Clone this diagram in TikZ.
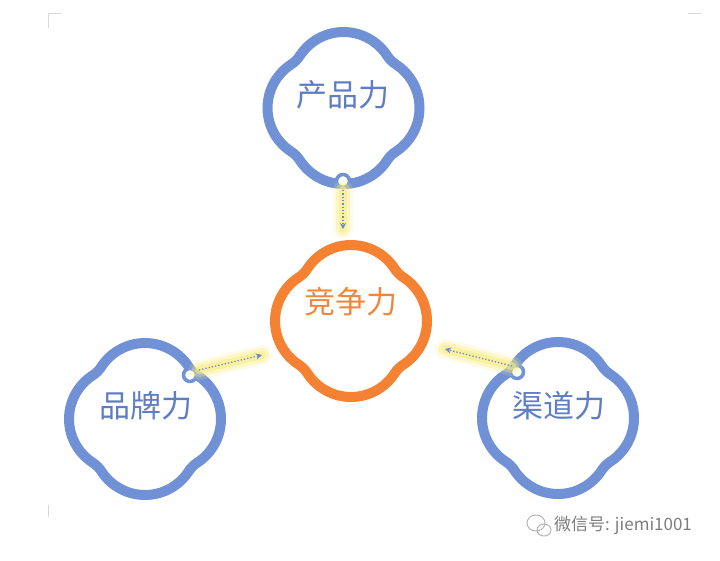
\documentclass[tikz,border=0pt]{standalone}
\usepackage{fontspec}
\newfontfamily\cjk{Noto Sans CJK SC}
\usetikzlibrary{arrows.meta}
\definecolor{bline}{RGB}{112,145,214}
\definecolor{btext}{RGB}{95,125,195}
\definecolor{oline}{RGB}{245,130,50}
\definecolor{otext}{RGB}{240,135,60}
\definecolor{glow}{RGB}{250,238,130}
\definecolor{dotc}{RGB}{110,135,200}
\definecolor{wm}{RGB}{125,125,125}
\tikzset{
  lbl/.style={font=\cjk\fontsize{31}{31}\selectfont, text=btext, inner sep=0},
  olbl/.style={lbl, text=otext},
  ringdot/.style={circle, fill=white, draw=bline, line width=3.5pt, minimum size=13pt, inner sep=0},
  glowline/.style={line cap=round, draw=glow},
  dotarrow/.style={draw=dotc, line width=1.3pt, dotted, -{Stealth[length=6pt,width=6pt]}},
  cornermark/.style={draw=black!15, line width=0.8pt},
  foil/.style={line width=10pt}
}
% quatrefoil: four lobes (radius 52, offset 24) joined by concave arcs (radius 30)
\newcommand\quatrefoil[3]{%
  \draw[foil, #3, shift={(#1,#2)}] (52.37,-43.58)
    arc[start angle=-56.94, end angle=56.94, radius=52]
    arc[start angle=236.94, end angle=213.06, radius=30]
    arc[start angle=33.06, end angle=146.94, radius=52]
    arc[start angle=326.94, end angle=303.06, radius=30]
    arc[start angle=123.06, end angle=236.94, radius=52]
    arc[start angle=56.94, end angle=33.06, radius=30]
    arc[start angle=213.06, end angle=326.94, radius=52]
    arc[start angle=146.94, end angle=123.06, radius=30] -- cycle;}
\begin{document}
\begin{tikzpicture}[x=1pt,y=-1pt]
\useasboundingbox[fill=white] (0,0) rectangle (720,560);
% corner marks
\draw[cornermark] (62,13) -- (48,13) -- (48,28);
\draw[cornermark] (688,13) -- (702,13);
\draw[cornermark] (48,505) -- (48,517);
% shapes
\quatrefoil{343.5}{108}{bline}
\quatrefoil{351}{321}{oline}
\quatrefoil{145}{419}{bline}
\quatrefoil{558}{418}{bline}
% labels
\node[lbl]  (p) at (343,95)  {产品力};
\node[olbl] (c) at (351,302) {竞争力};
\node[lbl]  (b) at (146,406) {品牌力};
\node[lbl]  (q) at (559,406) {渠道力};
% rings
\node[ringdot] (r1) at (343,181) {};
\node[ringdot] (r2) at (190,375) {};
\node[ringdot] (r3) at (517,372) {};
% arrow ends
\coordinate (e1) at (343,229);
\coordinate (e2) at (262,355);
\coordinate (e3) at (445,349);
\coordinate (s1) at (343,190);
\coordinate (s2) at (199,370);
\coordinate (s3) at (512,366);
% glows
\foreach \s/\e in {s1/e1,s2/e2,s3/e3}{
  \draw[glowline, line width=20pt, opacity=0.18] (\s) -- (\e);
  \draw[glowline, line width=14pt, opacity=0.35] (\s) -- (\e);
  \draw[glowline, line width=8pt, opacity=0.55] (\s) -- (\e);
}
\draw[dotarrow] (s1) -- (e1);
\draw[dotarrow] (s2) -- (e2);
\draw[dotarrow] (s3) -- (e3);
% watermark
\begin{scope}[draw=wm!60, line width=0.9pt]
  \draw (536,523) ellipse (9pt and 8pt);
  \draw (544,530) ellipse (7pt and 6pt);
\end{scope}
\node[font=\cjk\fontsize{17}{17}\selectfont, text=wm, anchor=west, inner sep=0] (w) at (554,525) {微信号: jiemi1001};
\end{tikzpicture}
\end{document}
